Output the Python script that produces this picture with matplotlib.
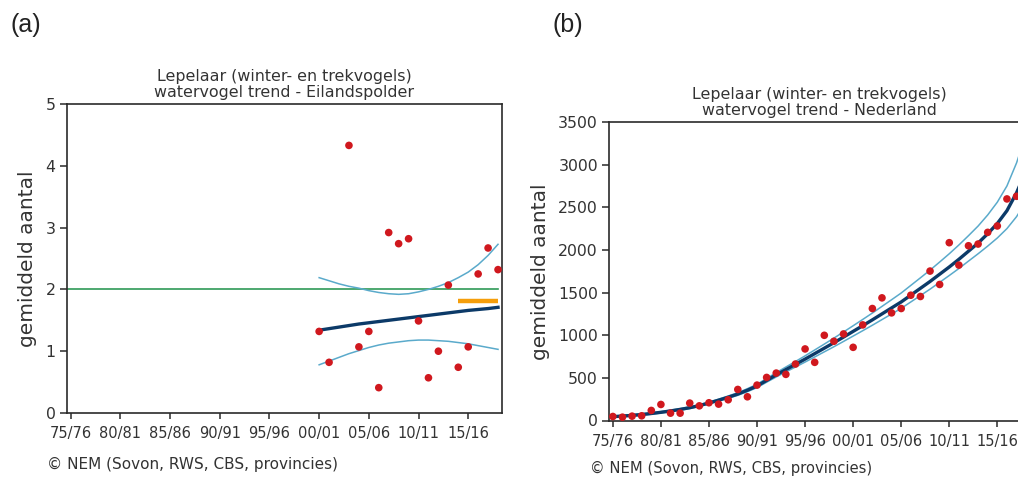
import numpy as np
import matplotlib
matplotlib.use("Agg")
import matplotlib.pyplot as plt

# ---------------- data ----------------
tick_years = [1975, 1980, 1985, 1990, 1995, 2000, 2005, 2010, 2015]
tick_labels = ["75/76", "80/81", "85/86", "90/91", "95/96", "00/01", "05/06", "10/11", "15/16"]

# (a) Eilandspolder: season start years and mean counts
years_a = [2000, 2001, 2003, 2004, 2005, 2006, 2007, 2008, 2009, 2010,
           2011, 2012, 2013, 2014, 2015, 2016, 2017, 2018]
counts_a = [1.32, 0.82, 4.33, 1.07, 1.32, 0.41, 2.92, 2.74, 2.82, 1.49,
            0.57, 1.00, 2.07, 0.74, 1.07, 2.25, 2.67, 2.32]
trend_years_a = list(range(2000, 2019))
trend_a = [1.34, 1.365, 1.39, 1.415, 1.44, 1.46, 1.48, 1.50, 1.52, 1.54,
           1.56, 1.58, 1.60, 1.62, 1.64, 1.66, 1.675, 1.69, 1.71]
upper_a = [2.19, 2.14, 2.09, 2.05, 2.02, 1.98, 1.95, 1.93, 1.92, 1.93,
           1.96, 2.00, 2.05, 2.11, 2.19, 2.28, 2.40, 2.55, 2.73]
lower_a = [0.78, 0.84, 0.90, 0.96, 1.01, 1.06, 1.10, 1.13, 1.15, 1.17,
           1.18, 1.18, 1.17, 1.16, 1.14, 1.12, 1.09, 1.06, 1.03]
norm_level_a = 2.0
norm_years_a = [1974.6, 2018]
recent_level_a = 1.82
recent_years_a = [2014, 2018]

# (b) Nederland
years_b = list(range(1975, 2018))
counts_b = [47, 39, 51, 55, 118, 188, 86, 86, 204, 172,
            208, 192, 243, 364, 278, 415, 505, 556, 541, 662,
            839, 682, 999, 929, 1015, 858, 1121, 1313, 1438, 1262,
            1313, 1469, 1454, 1752, 1595, 2085, 1822, 2049, 2069, 2206,
            2281, 2598, 2629]
trend_years_b = list(range(1975, 2019))
trend_b = [45, 52, 60, 70, 82, 96, 112, 130, 150, 175,
           205, 238, 273, 310, 355, 405, 470, 535, 597, 658,
           720, 784, 848, 912, 978, 1045, 1112, 1180, 1250, 1320,
           1390, 1470, 1550, 1630, 1715, 1800, 1890, 1985, 2080, 2190,
           2310, 2460, 2670, 2930]
upper_b = [53, 60, 68, 78, 90, 104, 121, 139, 160, 185,
           216, 250, 287, 326, 373, 425, 493, 561, 627, 692,
           758, 827, 896, 966, 1038, 1111, 1185, 1260, 1338, 1416,
           1495, 1584, 1673, 1763, 1858, 1955, 2058, 2167, 2280, 2410,
           2560, 2750, 3020, 3360]
lower_b = [37, 44, 52, 62, 74, 88, 103, 121, 140, 165,
           194, 226, 260, 295, 338, 386, 449, 511, 570, 627,
           685, 745, 805, 865, 927, 990, 1053, 1117, 1183, 1249,
           1315, 1390, 1465, 1540, 1620, 1700, 1782, 1869, 1955, 2045,
           2140, 2250, 2390, 2570]

title_a = "Lepelaar (winter- en trekvogels)\nwatervogel trend - Eilandspolder"
title_b = "Lepelaar (winter- en trekvogels)\nwatervogel trend - Nederland"
ylabel = "gemiddeld aantal"
footer = "\u00a9 NEM (Sovon, RWS, CBS, provincies)"

# ---------------- style ----------------
RED = "#d0181e"
NAVY = "#0c3a68"
CI = "#5aaacb"
GREEN = "#2f9a58"
ORANGE = "#f59e0b"
TXT = "#333333"

plt.rcParams["font.family"] = ["DejaVu Sans"]

W, H = 1018, 478
fig = plt.figure(figsize=(W / 100, H / 100), dpi=100)


def px_axes(left, top, right, bottom):
    return fig.add_axes([left / W, 1 - bottom / H, (right - left) / W, (bottom - top) / H])


def style(ax, ylim, yticks):
    ax.set_xlim(1974.6, 2018.4)
    ax.set_ylim(*ylim)
    ax.set_xticks(tick_years)
    ax.set_xticklabels(tick_labels)
    ax.set_yticks(yticks)
    for s in ax.spines.values():
        s.set_color("#2a2a2a")
        s.set_linewidth(1.2)
    ax.tick_params(axis="x", direction="out", length=4.5, width=1.1, pad=5,
                   labelsize=10.5, colors="#2a2a2a", labelcolor=TXT)
    ax.tick_params(axis="y", direction="out", length=5, width=1.1, pad=3,
                   labelsize=11.3, colors="#2a2a2a", labelcolor=TXT)


# ---- panel (a) ----
ax1 = px_axes(66.7, 104, 502, 413)
style(ax1, (0, 5), [0, 1, 2, 3, 4, 5])
ax1.plot(norm_years_a, [norm_level_a, norm_level_a], color=GREEN, lw=1.2, zorder=2)
ax1.plot(recent_years_a, [recent_level_a, recent_level_a], color=ORANGE, lw=3.2,
         solid_capstyle="butt", zorder=2)
ax1.plot(trend_years_a, upper_a, color=CI, lw=1.1, zorder=3)
ax1.plot(trend_years_a, lower_a, color=CI, lw=1.1, zorder=3)
ax1.plot(trend_years_a, trend_a, color=NAVY, lw=2.4, zorder=4)
ax1.scatter(years_a, counts_a, s=30, color=RED, edgecolors="none", zorder=5)
ax1.set_title(title_a, fontsize=11.4, color=TXT, pad=5, linespacing=1.12)
ax1.set_ylabel(ylabel, fontsize=14.5, color=TXT, labelpad=6)

# ---- panel (b) ----
ax2 = px_axes(609, 122, 1030, 420.5)
style(ax2, (0, 3500), [0, 500, 1000, 1500, 2000, 2500, 3000, 3500])
ax2.plot(trend_years_b, upper_b, color=CI, lw=1.1, zorder=3)
ax2.plot(trend_years_b, lower_b, color=CI, lw=1.1, zorder=3)
ax2.plot(trend_years_b, trend_b, color=NAVY, lw=2.4, zorder=4)
ax2.scatter(years_b, counts_b, s=30, color=RED, edgecolors="none", zorder=5)
ax2.set_title(title_b, fontsize=11.4, color=TXT, pad=5, linespacing=1.12)
ax2.set_ylabel(ylabel, fontsize=14.5, color=TXT, labelpad=6)

# ---- panel letters and footers ----
fig.text(10 / W, 1 - 25 / H, "(a)", fontsize=18, family=["Liberation Sans"],
         color="#222222", ha="left", va="center")
fig.text(552 / W, 1 - 25 / H, "(b)", fontsize=18, family=["Liberation Sans"],
         color="#222222", ha="left", va="center")
fig.text(47 / W, 1 - 464 / H, footer, fontsize=11, color=TXT, ha="left", va="center")
fig.text(590 / W, 1 - 468 / H, footer, fontsize=10.6, color=TXT, ha="left", va="center")

fig.savefig("out.png", dpi=100, facecolor="white")
